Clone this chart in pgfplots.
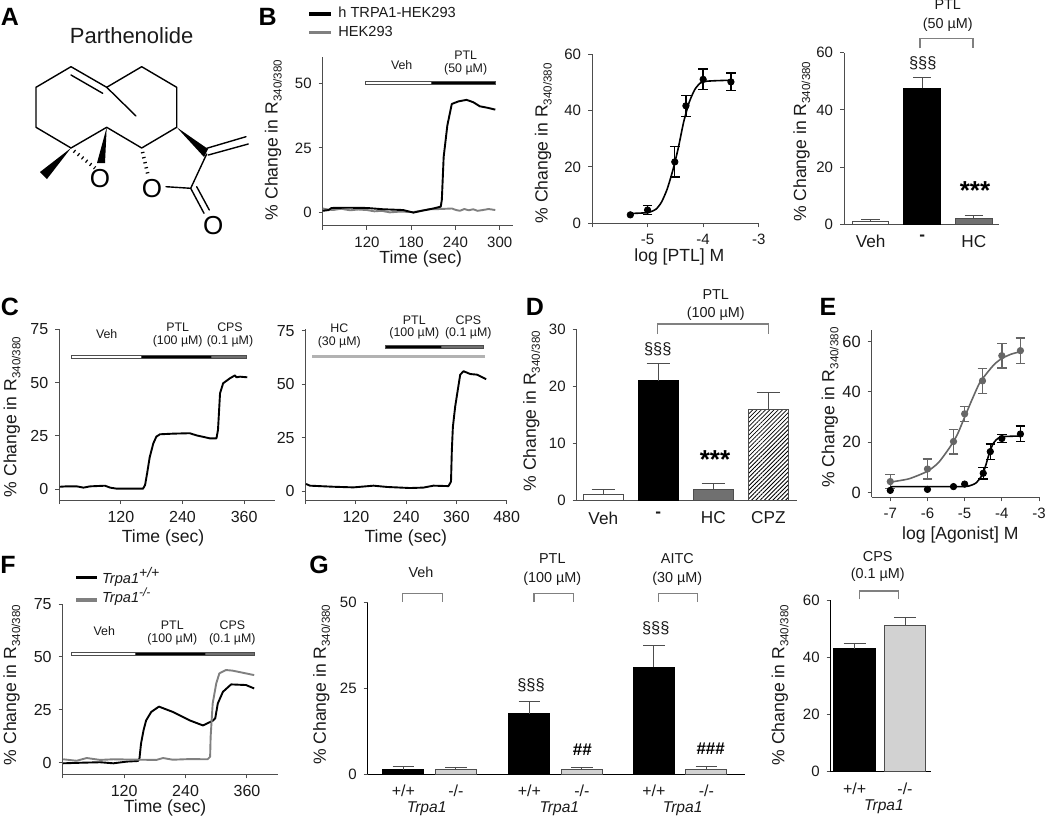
\documentclass[border=0pt]{standalone}
\usepackage{fontspec}
\setmainfont{Liberation Sans}
\usepackage{pgfplots}
\pgfplotsset{compat=1.18}
\usetikzlibrary{patterns.meta}

\definecolor{axgray}{HTML}{4D4D4D}
\definecolor{tracegray}{HTML}{808080}
\definecolor{dotgray}{HTML}{666666}
\definecolor{barlight}{HTML}{D2D2D2}
\definecolor{bargray}{HTML}{707070}
\definecolor{txt}{HTML}{1A1A1A}

\newcommand{\Rlab}{\% Change in R\raisebox{-2pt}{\fontsize{5.8}{6}\selectfont 340/380}}
\newcommand{\fs}[1]{\fontsize{#1}{#1}\selectfont}

% one reference pixel is 0.5pt; panel args are left, top, right, bottom in pixels
\pgfplotsset{
  panel/.style n args={4}{
    scale only axis, clip=false,
    at={(#1*0.5pt,-#4*0.5pt)}, anchor=south west,
    width=(#3-#1)*0.5pt, height=(#4-#2)*0.5pt,
    axis lines=left,
    axis line style={-, color=axgray, line width=0.5pt},
    tick style={color=axgray, line width=0.5pt},
    tick align=outside, major tick length=2pt,
    /pgf/number format/assume math mode=true,
    tick label style={font=\fs{7.5}, color=txt},
    label style={font=\fs{8.8}, color=txt},
    xlabel style={anchor=center}, ylabel style={anchor=center},
  },
  xlab at/.style 2 args={xlabel style={at={(axis description cs:#1,#2)}}},
  ylab at/.style 2 args={ylabel style={at={(axis description cs:#1,#2)}, rotate=0}},
  nobar ticks/.style={xtick style={draw=none}},
  trace/.style={color=black, line width=0.95pt, line join=round, no markers},
  gtrace/.style={color=tracegray, line width=0.95pt, line join=round, no markers},
  bar/.style n args={2}{ybar, fill=#1, draw=#2, line width=0.5pt,
    error bars/y dir=plus, error bars/y explicit,
    error bars/error bar style={color=axgray, line width=0.5pt},
  },
  cap/.style={error bars/error mark options={rotate=90, color=axgray, mark size=#1, line width=0.5pt}},
  fit/.style={smooth, tension=0.4, no markers, line width=0.8pt, color=#1},
  dots/.style={only marks, mark=*, mark size=1.6pt, color=#1, mark options={fill=#1, draw=#1},
    error bars/y dir=both, error bars/y explicit,
    error bars/error bar style={color=#1, line width=0.7pt},
    error bars/error mark options={rotate=90, color=#1, mark size=2.4pt, line width=0.7pt},
  },
}
\tikzset{
  lab/.style={font=\fs{6.2}, color=txt, inner sep=0pt, align=center},
  lab2/.style={font=\fs{7.2}, color=txt, inner sep=0pt, align=center},
  letter/.style={font=\bfseries\fs{12.5}, color=black, inner sep=0pt},
  brk/.style={color=tracegray, line width=0.6pt},
  mol/.style={line width=0.7pt, color=black, line cap=round, line join=round},
  hash/.style={color=black, line width=1.8pt, line cap=butt, dash pattern=on 0.6pt off 2pt},
}
\newcommand{\drug}[5][axgray]{\draw[draw=#1, fill=#5, line width=0.3pt] (#2,#4-1.7) rectangle (#3,#4+1.7);}

\begin{document}
\begin{tikzpicture}[x=0.5pt,y=-0.5pt]
\useasboundingbox (0,0) rectangle (1050,819);

% --- B left: time course
\begin{axis}[panel={322.7}{57}{513}{225.7},
  xmin=60, xmax=318, ymin=-5.17, ymax=60.2,
  xtick={60,120,180,240,300}, xticklabels={,120,180,240,300},
  ytick={0,25,50},
  xlabel={Time (sec)}, ylabel={\Rlab},
  xlab at={0.515}{-0.199}, ylab at={-0.26}{0.508}]
\addplot[gtrace] coordinates {(60,1.5) (67,1.1) (74,0.9) (85,1.4) (97,0.8) (108,1.1) (120,0.9) (130,0.4) (140,0.6) (151,0) (165,0.3) (183,0.1) (195,0.7) (205,1.2) (220,1.3) (235,1.5) (241,0.9) (246,0.6) (252,1.3) (258,0.8) (264,1.2) (270,0.6) (277,0.9) (285,1.3) (294,0.9)};
\addplot[trace] coordinates {(60,0.6) (68,0.9) (72,1.7) (92,1.8) (120,1.7) (142,1.2) (169,0.9) (183,-0.1) (194,0.6) (210,1.5) (220,2.2) (221.5,4.8) (224,21.5) (229,33.7) (235,42) (244,43) (255,43.6) (264,42.7) (273,41.1) (284,40.5) (294,39.8)};
\end{axis}

% --- B middle: dose response
\begin{axis}[panel={592}{54.3}{758.7}{223.3},
  xmin=-6, xmax=-3, ymin=0, ymax=60,
  xtick={-6,-5,-4,-3}, xticklabels={,-5,-4,-3},
  ytick={0,20,40,60},
  xlabel={log [PTL] M}, ylabel={\Rlab},
  xlab at={0.524}{-0.198}, ylab at={-0.292}{0.473}]
\addplot[fit=black] coordinates {(-5.3,3.5) (-5,3.8) (-4.85,5) (-4.75,7.5) (-4.65,12) (-4.55,18.5) (-4.45,26.5) (-4.35,36) (-4.25,43) (-4.15,47.5) (-4.05,49.8) (-3.95,50.4) (-3.8,50.6) (-3.5,50.8)};
\addplot[dots=black] coordinates {(-5.31,3) (-5,4.7) +- (0,1.6) (-4.51,21.8) +- (0,5.4) (-4.31,41.7) +- (0,3.7) (-4,51.1) +- (0,3.65) (-3.5,50.2) +- (0,3.1)};
\end{axis}

% --- B right: bars
\begin{axis}[panel={844}{52.7}{999}{224.3}, nobar ticks,
  xmin=-0.518, xmax=2.49, ymin=0, ymax=60,
  xtick={0,1,2}, xticklabels={Veh,\textbf{-},HC},
  x tick label style={font=\fs{8.6}},
  ytick={0,20,40,60}, /pgf/bar width=18.3pt,
  ylabel={\Rlab}, ylab at={-0.273}{0.481}]
\addplot[bar={white}{axgray}, cap=4.6pt] coordinates {(0,1.1) +- (0,0.6)};
\addplot[bar={black}{black}, cap=4.6pt] coordinates {(1,47.5) +- (0,3.7)};
\addplot[bar={bargray}{axgray}, cap=4.6pt] coordinates {(2,2.1) +- (0,1)};
\end{axis}

% --- C left
\begin{axis}[panel={59.3}{329.3}{275}{500},
  xmin=0, xmax=420, ymin=-5, ymax=75,
  xtick={0,120,240,360}, xticklabels={,120,240,360},
  ytick={0,25,50,75}, tick label style={font=\fs{8}},
  xlabel={Time (sec)}, ylabel={\Rlab},
  xlab at={0.481}{-0.223}, ylab at={-0.219}{0.486}]
\addplot[trace] coordinates {(1,1.2) (14,1.4) (34,1.4) (47,0.8) (60,1.4) (89,1.7) (99,0.8) (112,0.3) (144,0.3) (163,0.3) (167,2) (171,7.5) (176,15) (183,21.5) (189,24.7) (196,25.8) (222,26.1) (254,26.3) (267,25.3) (293,23.9) (306,23.9) (309,27.8) (313,45) (319,49.7) (332,52) (342,53.4) (345,52.5) (352,52.8) (366,52.5)};
\end{axis}

% --- C right
\begin{axis}[panel={305.7}{329.3}{506.7}{500},
  xmin=0, xmax=480, ymin=-4.2, ymax=75.6,
  xtick={0,120,240,360,480}, xticklabels={,120,240,360,480},
  ytick={0,25,50,75}, tick label style={font=\fs{8}},
  xlabel={Time (sec)}, xlab at={0.498}{-0.223}]
\addplot[trace] coordinates {(1,3.3) (10,2.5) (66,2) (114,1.7) (162,2.5) (194,1.9) (249,1.4) (281,1.6) (305,2.5) (341,2.3) (347,4.4) (349,19) (351.5,30) (357,39.5) (363,47) (369,54.4) (377,56) (393,54.7) (409,54.4) (431,52.3)};
\end{axis}

% --- D
\begin{axis}[panel={576.7}{329.3}{796.7}{500.7}, nobar ticks,
  xmin=-0.484, xmax=3.516, ymin=0, ymax=30,
  xtick={0,1,2,3}, xticklabels={Veh,\textbf{-},HC,CPZ},
  x tick label style={font=\fs{8.6}},
  ytick={0,10,20,30}, /pgf/bar width=19.8pt,
  ylabel={\Rlab}, ylab at={-0.205}{0.522}]
\addplot[bar={white}{axgray}, cap=5.8pt] coordinates {(0,1) +- (0,1)};
\addplot[bar={black}{black}, cap=5.8pt] coordinates {(1,21) +- (0,3)};
\addplot[bar={bargray}{axgray}, cap=5.8pt] coordinates {(2,2) +- (0,1)};
\addplot[bar={white}{axgray}, cap=5.8pt, pattern={Lines[angle=45,distance=1.5pt,line width=0.4pt]}, pattern color=black] coordinates {(3,16) +- (0,3)};
\end{axis}

% --- E
\begin{axis}[panel={871.7}{330}{1039}{497.3},
  xmin=-7.5, xmax=-3, ymin=-1.85, ymax=64.6,
  xtick={-7,-6,-5,-4,-3}, xticklabels={-7,-6,-5,-4,-3},
  ytick={0,20,40,60},
  y tick label style={font=\fs{8.2}},
  xlabel={log [Agonist] M}, ylabel={\Rlab},
  xlab at={0.53}{-0.225}, ylab at={-0.249}{0.536}]
\addplot[fit=dotgray] coordinates {(-7,4.2) (-6.5,5.5) (-6,8.5) (-5.7,12) (-5.4,18) (-5.2,23) (-5,30) (-4.8,37) (-4.6,43.5) (-4.4,47.5) (-4.2,51) (-4,53.3) (-3.75,55) (-3.5,56)};
\addplot[dots=dotgray] coordinates {(-7,4.4) +- (0,2.8) (-6,9.4) +- (0,4) (-5.3,20.3) +- (0,4.9) (-5,31.3) +- (0,3) (-4.52,44.4) +- (0,5) (-4,54.4) +- (0,4.9) (-3.5,56.4) +- (0,5)};
\addplot[fit=black] coordinates {(-7,2.4) (-5.2,2.4) (-4.9,2.6) (-4.7,3.8) (-4.55,6.5) (-4.45,10) (-4.35,15) (-4.25,19) (-4.15,21) (-4,22.2) (-3.5,22.5)};
\addplot[dots=black] coordinates {(-7,0.9) (-6,1.3) (-5.3,2.4) (-5,3.4) (-4.5,7.7) +- (0,2.2) (-4.31,16.3) +- (0,3.1) (-4,21.5) +- (0,1.5) (-3.5,23.3) +- (0,3.1)};
\end{axis}

% --- F
\begin{axis}[panel={62.7}{604}{277.7}{774.3},
  xmin=0, xmax=420, ymin=-5.5, ymax=75,
  xtick={0,120,240,360}, xticklabels={,120,240,360},
  ytick={0,25,50,75}, tick label style={font=\fs{8}},
  xlabel={Time (sec)}, ylabel={\Rlab},
  xlab at={0.476}{-0.197}, ylab at={-0.237}{0.525}]
\addplot[trace] coordinates {(1,-0.3) (40,0) (73,0.2) (99,-0.3) (125,0.5) (147,0.8) (150,2) (153,9) (158,15.4) (163,20) (173,24) (188,26.5) (215,24) (248,20) (274,17.6) (293,19.8) (298,21) (303,28) (313,33.5) (329,37) (358,36.7) (374,35.1)};
\addplot[gtrace] coordinates {(1,1.6) (27,0.9) (47,2.2) (73,1.3) (99,1.6) (150,1.4) (183,1.3) (196,2.2) (215,1.4) (248,1.7) (283,1.6) (288,2.8) (289,12.3) (293,28) (300,37.5) (306,42.2) (319,43.8) (332,43.5) (374,41.4)};
\end{axis}

% --- G left: three pairs of bars
\begin{axis}[panel={367.7}{602.7}{745}{774.3}, nobar ticks,
  xmin=-0.68, xmax=6.51, ymin=0, ymax=50,
  xtick={0,1,2.4,3.4,4.775,5.775}, xticklabels={+/+,-/-,+/+,-/-,+/+,-/-},
  ytick={0,25,50}, /pgf/bar width=20.5pt,
  x tick label style={font=\fs{8}},
  axis line style={-, color=black, line width=0.6pt},
  ylabel={\Rlab}, ylab at={-0.122}{0.522}]
\addplot[bar={black}{black}, cap=5.4pt] coordinates {(0,1.4) +- (0,1)};
\addplot[bar={barlight}{axgray}, cap=5.4pt] coordinates {(1,1.3) +- (0,0.6)};
\addplot[bar={black}{black}, cap=5.4pt] coordinates {(2.4,17.6) +- (0,3.7)};
\addplot[bar={barlight}{axgray}, cap=5.4pt] coordinates {(3.4,1.3) +- (0,0.6)};
\addplot[bar={black}{black}, cap=5.4pt] coordinates {(4.775,31.2) +- (0,6.3)};
\addplot[bar={barlight}{axgray}, cap=5.4pt] coordinates {(5.775,1.3) +- (0,1.1)};
\end{axis}

% --- G right: CPS
\begin{axis}[panel={830.7}{600.3}{930.7}{771.7}, nobar ticks,
  xmin=-0.477, xmax=1.511, ymin=0, ymax=60,
  xtick={0,1}, xticklabels={+/+,-/-},
  ytick={0,20,40,60}, /pgf/bar width=20.8pt,
  x tick label style={font=\fs{8}},
  axis line style={-, color=black, line width=0.6pt},
  ylabel={\Rlab}, ylab at={-0.507}{0.505}]
\addplot[bar={black}{black}, cap=5.6pt] coordinates {(0,43) +- (0,1.9)};
\addplot[bar={barlight}{axgray}, cap=5.6pt] coordinates {(1,51.1) +- (0,2.9)};
\end{axis}

% panel letters
\node[letter] at (10,17) {A};
\node[letter] at (267.7,17.3) {B};
\node[letter] at (10,307) {C};
\node[letter] at (535,307) {D};
\node[letter] at (828,307) {E};
\node[letter] at (8,565) {F};
\node[letter] at (319,565) {G};

% molecule
\node[font=\fs{11}, color=txt, inner sep=0pt] at (131.7,35.7) {Parthenolide};
\draw[mol] (36,87.3) -- (71,66.7) -- (106.7,87.3) -- (141.7,66.7) -- (176.7,87.3) -- (176.7,127.3) -- (141.7,148) -- (106.7,127.3) -- (71,148) -- (36,127.3) -- cycle;
\draw[mol] (71,75) -- (102.7,93.3);
\draw[mol] (106.7,87.3) -- (136,116);
\fill (176.7,127.3) -- (204,157) -- (208,149) -- cycle;
\draw[mol] (206.7,148.3) -- (246,136.7);
\draw[mol] (208.3,155) -- (248.3,144);
\draw[mol] (206.7,154) -- (190.7,188.3) -- (166,186.7);
\draw[mol] (190.7,188.3) -- (204,213.3);
\draw[mol] (196.7,186.7) -- (209.3,210);
\fill (71,148) -- (40,172) -- (47,179) -- cycle;
\fill (106.7,127.3) -- (97,163) -- (105,163) -- cycle;
\draw[hash] (74,151) -- (95,168);
\draw[hash] (142.5,152) -- (148,175);
\node[font=\fs{13}, color=black, inner sep=0pt] at (100,178.5) {O};
\node[font=\fs{13}, color=black, inner sep=0pt] at (152,189) {O};
\node[font=\fs{13}, color=black, inner sep=0pt] at (213.3,225.7) {O};

% B legend and annotations
\draw[black, line width=1.6pt] (309,14) -- (331,14);
\draw[tracegray, line width=1.6pt] (309,32.7) -- (331,32.7);
\node[anchor=west, font=\fs{7.3}, color=txt, inner sep=0pt] at (338,12) {h TRPA1-HEK293};
\node[anchor=west, font=\fs{7.3}, color=txt, inner sep=0pt] at (338,31.7) {HEK293};
\drug{365}{431.7}{82.7}{white}
\drug{431.7}{495}{82.7}{black}
\node[lab] at (401.7,65) {Veh};
\node[lab] at (465.7,55.7) {PTL};
\node[lab] at (465.7,69.3) {(50 µM)};

\draw[brk] (920,48.3) -- (920,38.3) -- (973,38.3) -- (973,48.3);
\node[lab2] at (947.7,5) {PTL};
\node[lab2] at (947.7,25) {(50 µM)};
\node[font=\fs{8.2}, color=txt, inner sep=0pt] at (922.7,63.3) {§§§};
\node[font=\bfseries\fs{13}, color=black, inner sep=0pt] at (975,191) {***};

% C annotations
\drug{71.7}{141}{356.7}{white}
\drug{141}{211}{356.7}{black}
\drug{211}{246.7}{356.7}{bargray}
\node[lab] at (106.7,334) {Veh};
\node[lab] at (177.7,327.7) {PTL};
\node[lab] at (177.7,341.7) {(100 µM)};
\node[lab] at (230,327.7) {CPS};
\node[lab] at (230,341.7) {(0.1 µM)};
\draw[draw=none, fill=barlight!85!black] (312,354.6) rectangle (485,358.2);
\drug{385}{441.7}{347}{black}
\drug{441.7}{483.3}{347}{bargray}
\node[lab] at (339.3,328.3) {HC};
\node[lab] at (339.3,342.7) {(30 µM)};
\node[lab] at (414.3,320) {PTL};
\node[lab] at (414.3,333.3) {(100 µM)};
\node[lab] at (468.3,320) {CPS};
\node[lab] at (468.3,333.3) {(0.1 µM)};

% D annotations
\draw[brk] (657.7,334) -- (657.7,324) -- (768.3,324) -- (768.3,334);
\node[lab2] at (715.7,295) {PTL};
\node[lab2] at (715.7,313.3) {(100 µM)};
\node[font=\fs{8.2}, color=txt, inner sep=0pt] at (657.7,349.3) {§§§};
\node[font=\bfseries\fs{13}, color=black, inner sep=0pt] at (715,459.5) {***};

% F annotations
\draw[black, line width=1.6pt] (76,577.3) -- (96.7,577.3);
\draw[tracegray, line width=1.6pt] (76,600) -- (96.7,600);
\node[anchor=west, font=\itshape\fs{7.3}, color=txt, inner sep=0pt] at (101.7,576.7) {Trpa1\textsuperscript{\fs{7}+/+}};
\node[anchor=west, font=\itshape\fs{7.3}, color=txt, inner sep=0pt] at (101.7,597) {Trpa1\textsuperscript{\fs{6}-/-}};
\drug{71.7}{135}{654}{white}
\drug{135}{205}{654}{black}
\drug{205}{254}{654}{bargray}
\node[lab] at (104.3,631) {Veh};
\node[lab] at (172.3,625.7) {PTL};
\node[lab] at (172.3,639.3) {(100 µM)};
\node[lab] at (232.3,625.7) {CPS};
\node[lab] at (232.3,639.3) {(0.1 µM)};

% G annotations
\draw[brk] (402.3,601.7) -- (402.3,593.3) -- (442.3,593.3) -- (442.3,601.7);
\draw[brk] (534,601.7) -- (534,593.3) -- (573.3,593.3) -- (573.3,601.7);
\draw[brk] (658.7,601.7) -- (658.7,593.3) -- (697.7,593.3) -- (697.7,601.7);
\draw[brk] (859.3,599.3) -- (859.3,591) -- (898.7,591) -- (898.7,599.3);
\node[lab2] at (421,572.7) {Veh};
\node[lab2] at (552.3,559) {PTL};
\node[lab2] at (552.3,578.3) {(100 µM)};
\node[lab2] at (677.3,559) {AITC};
\node[lab2] at (677.3,578.3) {(30 µM)};
\node[lab2] at (877.7,556.7) {CPS};
\node[lab2] at (877.7,575) {(0.1 µM)};
\node[font=\fs{8.2}, color=txt, inner sep=0pt] at (531,685.7) {§§§};
\node[font=\fs{8.2}, color=txt, inner sep=0pt] at (655.7,628.7) {§§§};
\node[font=\bfseries\fs{8.5}, color=black, inner sep=0pt] at (582.3,750) {\#\#};
\node[font=\bfseries\fs{8.5}, color=black, inner sep=0pt] at (710.7,748.3) {\#\#\#};
\node[font=\itshape\fs{7.8}, color=txt, inner sep=0pt] at (426.7,809) {Trpa1};
\node[font=\itshape\fs{7.8}, color=txt, inner sep=0pt] at (559.3,809) {Trpa1};
\node[font=\itshape\fs{7.8}, color=txt, inner sep=0pt] at (682.7,809) {Trpa1};
\node[font=\itshape\fs{7.8}, color=txt, inner sep=0pt] at (884,806.7) {Trpa1};
\end{tikzpicture}
\end{document}
